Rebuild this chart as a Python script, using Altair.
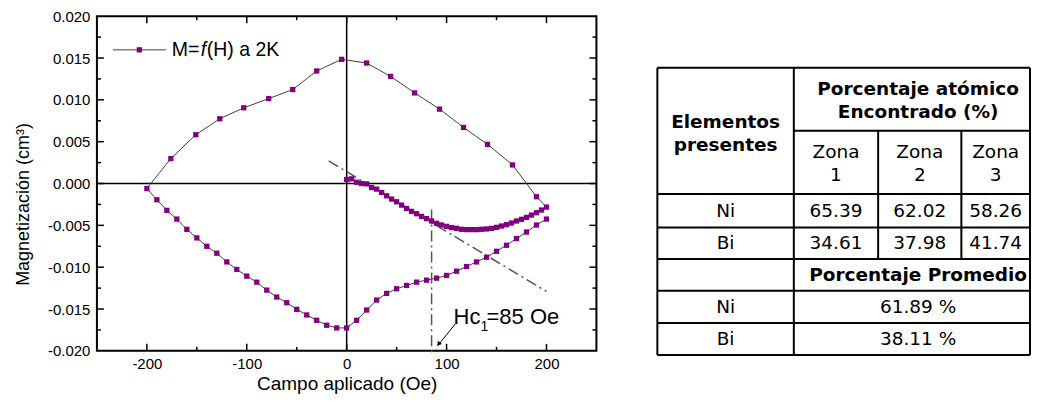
import altair as alt
import pandas as pd

# ---------------- data: M = f(H) at 2 K ----------------
# virgin curve (0 -> 200 Oe)
virgin_H = [0, 5, 10, 15, 20, 25, 30, 35, 40, 45, 50, 55, 60, 65, 70, 75, 80, 85, 90, 95,
            100, 105, 110, 115, 120, 125, 130, 135, 140, 145, 150, 155, 160, 165, 170, 175,
            180, 185, 190, 195, 200]
virgin_M = [0.00048, 0.00056, 0.00015, 0.00000, -0.00004, -0.00048, -0.00067, -0.00107,
            -0.00147, -0.00186, -0.00218, -0.00258, -0.00298, -0.00333, -0.00361, -0.00393,
            -0.00420, -0.00448, -0.00476, -0.00496, -0.00512, -0.00527, -0.00536, -0.00547,
            -0.00551, -0.00551, -0.00551, -0.00547, -0.00543, -0.00536, -0.00524, -0.00508,
            -0.00492, -0.00472, -0.00448, -0.00428, -0.00405, -0.00377, -0.00349, -0.00317,
            -0.00282]
# descending branch (200 -> -200 Oe)
upper_H = [190, 166, 141, 117, 93, 68, 44, 20, -5, -30, -54, -78, -103, -127, -151, -176, -200]
upper_M = [-0.00158, 0.00222, 0.00468, 0.00670, 0.00889, 0.01083, 0.01280, 0.01440, 0.01484,
           0.01345, 0.01123, 0.01015, 0.00905, 0.00774, 0.00583, 0.00298, -0.00060]
# ascending branch (-200 -> 200 Oe)
lower_H = [-190, -180, -170, -160, -150, -140, -130, -120, -110, -100, -90, -80, -70, -60,
           -50, -40, -30, -20, -10, 0, 10, 20, 30, 40, 50, 60, 70, 80, 90, 100, 110, 120,
           130, 140, 150, 160, 170, 180, 190, 200]
lower_M = [-0.00194, -0.00321, -0.00425, -0.00548, -0.00650, -0.00750, -0.00833, -0.00937,
           -0.01027, -0.01107, -0.01179, -0.01274, -0.01357, -0.01425, -0.01504, -0.01571,
           -0.01635, -0.01694, -0.01726, -0.01726, -0.01635, -0.01512, -0.01393, -0.01313,
           -0.01258, -0.01218, -0.01179, -0.01155, -0.01131, -0.01099, -0.01048, -0.00992,
           -0.00937, -0.00881, -0.00810, -0.00738, -0.00658, -0.00580, -0.00496, -0.00425]

# dash-dot guide lines
tangent_H = [-18, 200]
tangent_M = [0.0027, -0.0129]
hc_H = [85, 85]
hc_M = [-0.0031, -0.0205]

# annotation
hc_parts = ["Hc", "1", "=85 Oe"]
hc_part_H = [107, 134, 140]
hc_part_M = [-0.01674, -0.01762, -0.01674]
arrow_H = [109, 91]
arrow_M = [-0.01674, -0.0194]

legend_parts = ["M=", "f", "(H) a 2K"]

# axis ticks
x_major = [-200, -100, 0, 100, 200]
x_minor = [-150, -50, 50, 150]
y_labels = [-0.02, -0.015, -0.01, -0.005, 0, 0.005, 0.01, 0.015, 0.02]
y_major = [-0.015, -0.01, -0.005, 0, 0.005, 0.01, 0.015]
y_minor = [-0.0175, -0.0125, -0.0075, -0.0025, 0.0025, 0.0075, 0.0125, 0.0175]

# table
table_elements = ["Ni", "Bi"]
zone_names = ["Zona\n1", "Zona\n2", "Zona\n3"]
ni_values = [65.39, 62.02, 58.26]
bi_values = [34.61, 37.98, 41.74]
avg_values = [61.89, 38.11]
head_left = "Elementos\npresentes"
head_top = "Porcentaje atómico\nEncontrado (%)"
head_avg = "Porcentaje Promedio"

# ---------------- styling ----------------
FONT = "Liberation Sans"
TFONT = "DejaVu Sans"
PURPLE = "#800080"
PW, PH = 500, 335

curve = pd.DataFrame({
    "H": virgin_H + upper_H + lower_H,
    "M": virgin_M + upper_M + lower_M,
})
curve["idx"] = range(len(curve))

X = alt.X("H:Q", scale=alt.Scale(domain=[-250, 250], nice=False, zero=False),
          axis=alt.Axis(values=x_major, title="Campo aplicado (Oe)", ticks=False, domain=False,
                        grid=False, labelPadding=6, titlePadding=2.5, labelFont=FONT,
                        labelFontSize=15, titleFont=FONT, titleFontSize=19,
                        labelExpr="datum.value < 0 ? '-' + format(-datum.value, 'd') : format(datum.value, 'd')",
                        titleFontWeight="normal", labelColor="black", titleColor="black"))
Y = alt.Y("M:Q", scale=alt.Scale(domain=[-0.02, 0.02], nice=False, zero=False),
          axis=alt.Axis(values=y_labels, title="Magnetización (cm³)", ticks=False, domain=False,
                        grid=False, labelPadding=7, labelFont=FONT, labelFontSize=15,
                        labelExpr="datum.value < 0 ? '-' + format(-datum.value, '.3f') : format(datum.value, '.3f')",
                        titleFont=FONT, titleFontSize=18, titleFontWeight="normal",
                        labelColor="black", titleColor="black", titleX=-64, titleY=188))

one = pd.DataFrame({"k": [0]})

origin_v = alt.Chart(pd.DataFrame({"H": [0]})).mark_rule(color="black", strokeWidth=1.5).encode(x=X)
origin_h = alt.Chart(pd.DataFrame({"M": [0]})).mark_rule(color="black", strokeWidth=1.5).encode(y=Y)

ticks = []
for vals, ln in ((x_major, 7), (x_minor, 4)):
    d = pd.DataFrame({"H": vals})
    ticks.append(alt.Chart(d).mark_rule(color="black", strokeWidth=1.5).encode(
        x=X, y=alt.value(PH), y2=alt.value(PH - ln)))
    ticks.append(alt.Chart(d).mark_rule(color="black", strokeWidth=1.5).encode(
        x=X, y=alt.value(0), y2=alt.value(ln)))
for vals, ln in ((y_major, 7), (y_minor, 4)):
    d = pd.DataFrame({"M": vals})
    ticks.append(alt.Chart(d).mark_rule(color="black", strokeWidth=1.5).encode(
        y=Y, x=alt.value(0), x2=alt.value(ln)))
    ticks.append(alt.Chart(d).mark_rule(color="black", strokeWidth=1.5).encode(
        y=Y, x=alt.value(PW), x2=alt.value(PW - ln)))

dash = [11, 4, 2, 4]
tangent = alt.Chart(pd.DataFrame({"H": tangent_H, "M": tangent_M})).mark_line(
    color="#555555", strokeWidth=1.5, strokeDash=dash).encode(x=X, y=Y)
hcline = alt.Chart(pd.DataFrame({"H": hc_H, "M": hc_M})).mark_line(
    color="#555555", strokeWidth=1.5, strokeDash=dash).encode(x=X, y=Y)

line = alt.Chart(curve).mark_line(color="#404040", strokeWidth=1).encode(x=X, y=Y, order="idx:Q")
pts = alt.Chart(curve).mark_point(shape="square", filled=True, size=28, color=PURPLE,
                                  opacity=1).encode(x=X, y=Y)

arrow_df = pd.DataFrame({"H": [arrow_H[0]], "M": [arrow_M[0]], "H2": [arrow_H[1]], "M2": [arrow_M[1]]})
arrow = alt.Chart(arrow_df).mark_rule(color="black", strokeWidth=1).encode(
    x=X, y=Y, x2="H2:Q", y2="M2:Q")
arrow_head = alt.Chart(pd.DataFrame({"H": [arrow_H[1] + 1], "M": [arrow_M[1] + 0.0002]})).mark_point(
    shape="triangle-up", filled=True, size=26, color="black", opacity=1, angle=219).encode(x=X, y=Y)

ann_df = pd.DataFrame({"H": hc_part_H, "M": hc_part_M, "t": hc_parts})
ann_big = alt.Chart(ann_df.iloc[[0, 2]]).mark_text(
    align="left", baseline="alphabetic", font=FONT, fontSize=22, color="black").encode(x=X, y=Y, text="t:N")
ann_sub = alt.Chart(ann_df.iloc[[1]]).mark_text(
    align="left", baseline="alphabetic", font=FONT, fontSize=14, color="black").encode(x=X, y=Y, text="t:N")

leg_line = alt.Chart(one).mark_rule(color="#404040", strokeWidth=1).encode(
    x=alt.value(16), x2=alt.value(69), y=alt.value(33.7))
leg_pt = alt.Chart(one).mark_point(shape="square", filled=True, size=28, color=PURPLE, opacity=1).encode(
    x=alt.value(42.5), y=alt.value(33.7))
leg_t1 = alt.Chart(pd.DataFrame({"t": [legend_parts[0]]})).mark_text(
    align="left", baseline="alphabetic", font=FONT, fontSize=19.5, color="black").encode(
    x=alt.value(75), y=alt.value(39.5), text="t:N")
leg_t2 = alt.Chart(pd.DataFrame({"t": [legend_parts[1]]})).mark_text(
    align="left", baseline="alphabetic", font=FONT, fontSize=19.5, fontStyle="italic", color="black").encode(
    x=alt.value(104), y=alt.value(39.5), text="t:N")
leg_t3 = alt.Chart(pd.DataFrame({"t": [legend_parts[2]]})).mark_text(
    align="left", baseline="alphabetic", font=FONT, fontSize=19.5, color="black").encode(
    x=alt.value(110), y=alt.value(39.5), text="t:N")

plot = alt.layer(
    origin_v, origin_h, *ticks, tangent, hcline, line, pts, arrow, arrow_head,
    ann_big, ann_sub, leg_line, leg_pt, leg_t1, leg_t2, leg_t3
).properties(width=PW, height=PH, view=alt.ViewBackground(stroke="black", strokeWidth=2))

# ---------------- table panel ----------------
col_edges = [0, 136.6, 221.0, 304.3, 373.0]
row_edges = [0, 63.3, 126.6, 160.0, 191.6, 223.3, 255.6, 287.6]
TW, TH = 373, 340.3
LH = 23
TX = alt.X("x:Q", scale=alt.Scale(domain=[0, TW], nice=False, zero=False), axis=None)
TY = alt.Y("y:Q", scale=alt.Scale(domain=[-51.5, 287.6], nice=False, zero=False, reverse=True), axis=None)

segs = []
segs.append((col_edges[0], col_edges[4], row_edges[0], row_edges[0]))
segs.append((col_edges[1], col_edges[4], row_edges[1], row_edges[1]))
for r in row_edges[2:]:
    segs.append((col_edges[0], col_edges[4], r, r))
for c in (col_edges[0], col_edges[1], col_edges[4]):
    segs.append((c, c, row_edges[0], row_edges[-1]))
for c in (col_edges[2], col_edges[3]):
    segs.append((c, c, row_edges[1], row_edges[4]))
seg_df = pd.DataFrame(segs, columns=["x", "x2", "y", "y2"])
grid = alt.Chart(seg_df).mark_rule(color="black", strokeWidth=2).encode(
    x=TX, x2="x2:Q", y=TY, y2="y2:Q")

col_c = [(col_edges[i] + col_edges[i + 1]) / 2 for i in range(4)]
merged_c = 261.0
row_c = [(row_edges[i] + row_edges[i + 1]) / 2 for i in range(7)]
two = LH / 2  # first line of a two-line cell sits half a line above the centre

bold_rows = [
    (head_left, col_c[0], (row_edges[0] + row_edges[2]) / 2 + 3 - two),
    (head_top, merged_c, row_c[0] + 1 - two),
    (head_avg, merged_c, row_c[4]),
]
norm_rows = []
for i, z in enumerate(zone_names):
    norm_rows.append((z, col_c[i + 1], row_c[1] + 1.5 - two))
for r, (el, vals) in enumerate(zip(table_elements, [ni_values, bi_values])):
    norm_rows.append((el, col_c[0], row_c[2 + r]))
    for i, v in enumerate(vals):
        norm_rows.append((f"{v:.2f}", col_c[i + 1], row_c[2 + r]))
for r, (el, v) in enumerate(zip(table_elements, avg_values)):
    norm_rows.append((el, col_c[0], row_c[5 + r]))
    norm_rows.append((f"{v:.2f} %", merged_c, row_c[5 + r]))

bold_df = pd.DataFrame(bold_rows, columns=["t", "x", "y"])
norm_df = pd.DataFrame(norm_rows, columns=["t", "x", "y"])
bold_txt = alt.Chart(bold_df).mark_text(
    font=TFONT, fontSize=18.5, fontWeight="bold", lineBreak="\n", lineHeight=LH,
    align="center", baseline="middle", color="black").encode(x=TX, y=TY, text="t:N")
norm_txt = alt.Chart(norm_df).mark_text(
    font=TFONT, fontSize=18.5, lineBreak="\n", lineHeight=LH,
    align="center", baseline="middle", color="black").encode(x=TX, y=TY, text="t:N")

table = alt.layer(grid, bold_txt, norm_txt).properties(width=TW, height=TH - 1.2)

chart = alt.hconcat(plot, table, spacing=58).properties(
    padding={"left": 6, "top": 0, "right": 0, "bottom": 0}
).configure_view(stroke=None)

chart.save("out.html", embed_options={"renderer": "svg", "actions": False})
